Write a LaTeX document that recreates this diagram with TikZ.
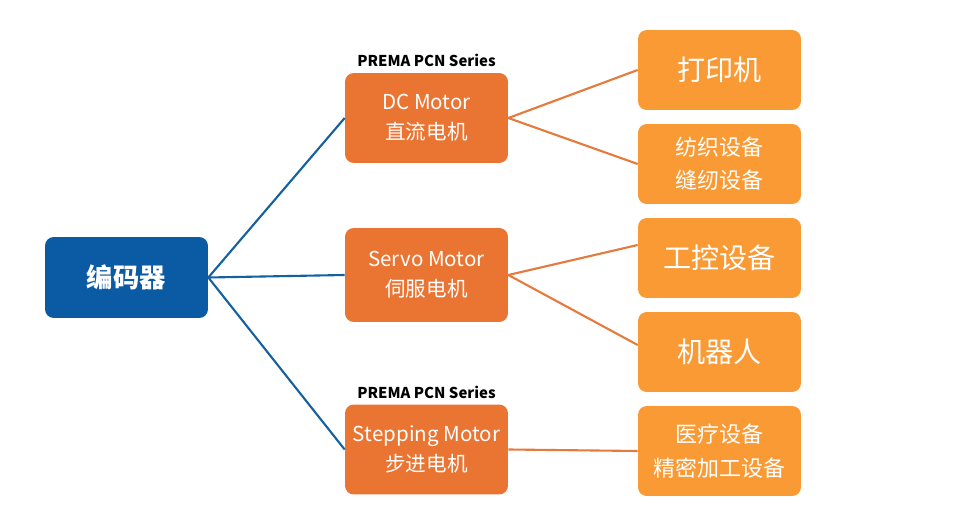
\documentclass[tikz,border=0pt]{standalone}
\usepackage{fontspec}
\setmainfont{Noto Sans CJK SC}
\usepackage{xcolor}
\definecolor{navy}{HTML}{0B5BA4}
\definecolor{rust}{HTML}{EA7533}
\definecolor{amber}{HTML}{F99A34}
\definecolor{bluewire}{HTML}{15609F}
\definecolor{orangewire}{HTML}{E57A3C}
\usepackage{tikz}
\usetikzlibrary{positioning}
\tikzset{
  box/.style={rounded corners=5pt, text=white, align=center, minimum width=3.26cm, inner sep=2pt},
  root/.style={box, fill=navy, minimum height=1.62cm, font=\fontsize{15}{18}\selectfont\bfseries},
  motor/.style={box, fill=rust, minimum height=1.8cm, font=\fontsize{11.7}{17}\selectfont},
  usage/.style={box, fill=amber, minimum height=1.6cm, font=\fontsize{16}{19}\selectfont},
  usagetwo/.style={usage, font=\fontsize{12.5}{19}\selectfont},
  series/.style={font=\fontsize{8.5}{10}\selectfont\bfseries, inner sep=1pt},
  bluewire/.style={draw=bluewire, line width=1.2pt},
  orangewire/.style={draw=orangewire, line width=1.2pt},
}
\begin{document}
\begin{tikzpicture}[x=0.02cm, y=-0.02cm]
  \useasboundingbox (0,0) rectangle (961,523);
  % encoder
  \node[root] (encoder) at (126.5,277.5) {编码器};
  % motors
  \node[motor] (dc) at (426.5,118) {DC Motor\\直流电机};
  \node[motor, minimum height=1.88cm] (servo) at (426.5,275) {Servo Motor\\伺服电机};
  \node[motor] (stepping) at (426.5,449.5) {Stepping Motor\\步进电机};
  \node[series] at (426.5,60) {PREMA PCN Series};
  \node[series] at (426.5,392) {PREMA PCN Series};
  % applications
  \node[usage] (printer) at (719.5,70) {打印机};
  \node[usagetwo] (textile) at (719.5,164) {纺织设备\\缝纫设备};
  \node[usage] (control) at (719.5,258) {工控设备};
  \node[usage] (robot) at (719.5,352) {机器人};
  \node[usagetwo, minimum height=1.8cm] (medical) at (719.5,451) {医疗设备\\精密加工设备};
  % links
  \draw[bluewire] (encoder.east) -- (dc.west);
  \draw[bluewire] (encoder.east) -- (servo.west);
  \draw[bluewire] (encoder.east) -- (stepping.west);
  \draw[orangewire] (dc.east) -- (printer.west);
  \draw[orangewire] (dc.east) -- (textile.west);
  \draw[orangewire] (servo.east) -- ([yshift=0.26cm]control.west);
  \draw[orangewire] (servo.east) -- ([yshift=0.14cm]robot.west);
  \draw[orangewire] (stepping.east) -- (medical.west);
\end{tikzpicture}
\end{document}
